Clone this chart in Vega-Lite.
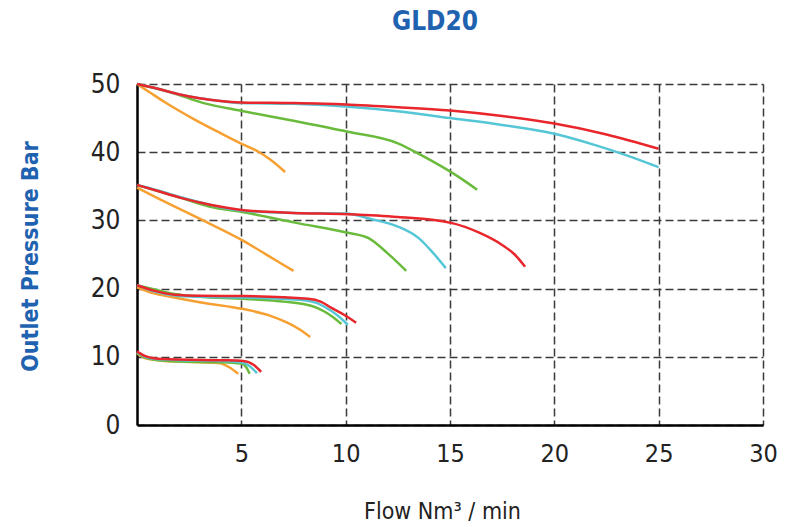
{
  "$schema": "https://vega.github.io/schema/vega-lite/v6.json",
  "autosize": "none",
  "width": 626,
  "height": 341,
  "padding": {"left": 137, "top": 84, "right": 26, "bottom": 102},
  "background": "white",
  "config": {"view": {"stroke": null}},
  "title": {
    "text": "GLD20",
    "anchor": "middle",
    "dx": -15,
    "offset": 36,
    "font": "DejaVu Sans Condensed, sans-serif",
    "fontSize": 26,
    "fontWeight": "bold",
    "color": "#1f62b0"
  },
  "data": {
    "values": [
      {"g": 50, "s": "orange", "x": 0, "y": 50}, {"g": 50, "s": "orange", "x": 0.6, "y": 48.8}, {"g": 50, "s": "orange", "x": 1.3, "y": 47.4}, {"g": 50, "s": "orange", "x": 2.7, "y": 44.9}, {"g": 50, "s": "orange", "x": 4, "y": 42.8}, {"g": 50, "s": "orange", "x": 5.1, "y": 41.1}, {"g": 50, "s": "orange", "x": 5.8, "y": 40.1}, {"g": 50, "s": "orange", "x": 6.4, "y": 38.9}, {"g": 50, "s": "orange", "x": 7.1, "y": 37.1},
      {"g": 50, "s": "green", "x": 0, "y": 50}, {"g": 50, "s": "green", "x": 1.6, "y": 48.8}, {"g": 50, "s": "green", "x": 3.2, "y": 47.2}, {"g": 50, "s": "green", "x": 5.1, "y": 46}, {"g": 50, "s": "green", "x": 7.5, "y": 44.6}, {"g": 50, "s": "green", "x": 10.1, "y": 43}, {"g": 50, "s": "green", "x": 12.5, "y": 41.3}, {"g": 50, "s": "green", "x": 13.6, "y": 39.6}, {"g": 50, "s": "green", "x": 15.5, "y": 36.2}, {"g": 50, "s": "green", "x": 16.3, "y": 34.5},
      {"g": 50, "s": "cyan", "x": 0, "y": 50}, {"g": 50, "s": "cyan", "x": 1, "y": 49.3}, {"g": 50, "s": "cyan", "x": 2, "y": 48.5}, {"g": 50, "s": "cyan", "x": 3, "y": 47.9}, {"g": 50, "s": "cyan", "x": 4, "y": 47.5}, {"g": 50, "s": "cyan", "x": 5, "y": 47.2}, {"g": 50, "s": "cyan", "x": 7.5, "y": 47.1}, {"g": 50, "s": "cyan", "x": 10, "y": 46.7}, {"g": 50, "s": "cyan", "x": 12.5, "y": 46}, {"g": 50, "s": "cyan", "x": 15, "y": 45}, {"g": 50, "s": "cyan", "x": 17.5, "y": 44}, {"g": 50, "s": "cyan", "x": 20, "y": 42.7}, {"g": 50, "s": "cyan", "x": 22, "y": 41}, {"g": 50, "s": "cyan", "x": 23.5, "y": 39.5}, {"g": 50, "s": "cyan", "x": 25, "y": 37.8},
      {"g": 50, "s": "red", "x": 0, "y": 50}, {"g": 50, "s": "red", "x": 1, "y": 49.3}, {"g": 50, "s": "red", "x": 2, "y": 48.5}, {"g": 50, "s": "red", "x": 3, "y": 47.9}, {"g": 50, "s": "red", "x": 4, "y": 47.5}, {"g": 50, "s": "red", "x": 5, "y": 47.3}, {"g": 50, "s": "red", "x": 7.5, "y": 47.2}, {"g": 50, "s": "red", "x": 10, "y": 47}, {"g": 50, "s": "red", "x": 12.5, "y": 46.6}, {"g": 50, "s": "red", "x": 15, "y": 46.1}, {"g": 50, "s": "red", "x": 17.5, "y": 45.3}, {"g": 50, "s": "red", "x": 20, "y": 44.2}, {"g": 50, "s": "red", "x": 22.5, "y": 42.6}, {"g": 50, "s": "red", "x": 25, "y": 40.5},

      {"g": 35, "s": "orange", "x": 0, "y": 34.8}, {"g": 35, "s": "orange", "x": 1.15, "y": 33}, {"g": 35, "s": "orange", "x": 2.9, "y": 30.4}, {"g": 35, "s": "orange", "x": 5.1, "y": 27}, {"g": 35, "s": "orange", "x": 6.3, "y": 24.8}, {"g": 35, "s": "orange", "x": 7.5, "y": 22.6},
      {"g": 35, "s": "green", "x": 0, "y": 35.2}, {"g": 35, "s": "green", "x": 1, "y": 34.3}, {"g": 35, "s": "green", "x": 2.1, "y": 33.3}, {"g": 35, "s": "green", "x": 3.5, "y": 32}, {"g": 35, "s": "green", "x": 5.1, "y": 31.2}, {"g": 35, "s": "green", "x": 7.7, "y": 29.6}, {"g": 35, "s": "green", "x": 10.1, "y": 28.2}, {"g": 35, "s": "green", "x": 11.1, "y": 27.4}, {"g": 35, "s": "green", "x": 12, "y": 25.2}, {"g": 35, "s": "green", "x": 12.9, "y": 22.6},
      {"g": 35, "s": "cyan", "x": 0, "y": 35.2}, {"g": 35, "s": "cyan", "x": 1, "y": 34.4}, {"g": 35, "s": "cyan", "x": 2.1, "y": 33.4}, {"g": 35, "s": "cyan", "x": 3.5, "y": 32.3}, {"g": 35, "s": "cyan", "x": 5.1, "y": 31.4}, {"g": 35, "s": "cyan", "x": 7.5, "y": 31.1}, {"g": 35, "s": "cyan", "x": 10, "y": 31}, {"g": 35, "s": "cyan", "x": 11.2, "y": 30.2}, {"g": 35, "s": "cyan", "x": 12.5, "y": 29.1}, {"g": 35, "s": "cyan", "x": 13.5, "y": 27.4}, {"g": 35, "s": "cyan", "x": 14.2, "y": 25.2}, {"g": 35, "s": "cyan", "x": 14.8, "y": 23},
      {"g": 35, "s": "red", "x": 0, "y": 35.2}, {"g": 35, "s": "red", "x": 1, "y": 34.3}, {"g": 35, "s": "red", "x": 2.1, "y": 33.3}, {"g": 35, "s": "red", "x": 3.5, "y": 32.3}, {"g": 35, "s": "red", "x": 5.1, "y": 31.5}, {"g": 35, "s": "red", "x": 7.5, "y": 31.1}, {"g": 35, "s": "red", "x": 10.1, "y": 30.9}, {"g": 35, "s": "red", "x": 12.5, "y": 30.5}, {"g": 35, "s": "red", "x": 15.1, "y": 29.6}, {"g": 35, "s": "red", "x": 16.4, "y": 28.2}, {"g": 35, "s": "red", "x": 17.5, "y": 26.4}, {"g": 35, "s": "red", "x": 18.1, "y": 25}, {"g": 35, "s": "red", "x": 18.6, "y": 23.2},

      {"g": 20, "s": "orange", "x": 0, "y": 20.2}, {"g": 20, "s": "orange", "x": 0.8, "y": 19.3}, {"g": 20, "s": "orange", "x": 1.6, "y": 18.8}, {"g": 20, "s": "orange", "x": 3, "y": 18}, {"g": 20, "s": "orange", "x": 5.1, "y": 17}, {"g": 20, "s": "orange", "x": 6.4, "y": 16}, {"g": 20, "s": "orange", "x": 7.2, "y": 15}, {"g": 20, "s": "orange", "x": 7.8, "y": 14}, {"g": 20, "s": "orange", "x": 8.3, "y": 12.9},
      {"g": 20, "s": "green", "x": 0, "y": 20.5}, {"g": 20, "s": "green", "x": 0.8, "y": 19.9}, {"g": 20, "s": "green", "x": 1.8, "y": 19.2}, {"g": 20, "s": "green", "x": 3, "y": 18.8}, {"g": 20, "s": "green", "x": 5.1, "y": 18.5}, {"g": 20, "s": "green", "x": 8.2, "y": 17.6}, {"g": 20, "s": "green", "x": 9, "y": 16.6}, {"g": 20, "s": "green", "x": 9.4, "y": 15.8}, {"g": 20, "s": "green", "x": 9.8, "y": 14.8},
      {"g": 20, "s": "cyan", "x": 0, "y": 20.5}, {"g": 20, "s": "cyan", "x": 0.8, "y": 19.6}, {"g": 20, "s": "cyan", "x": 1.8, "y": 19}, {"g": 20, "s": "cyan", "x": 3, "y": 18.8}, {"g": 20, "s": "cyan", "x": 5.1, "y": 18.7}, {"g": 20, "s": "cyan", "x": 8, "y": 18.3}, {"g": 20, "s": "cyan", "x": 8.6, "y": 17.9}, {"g": 20, "s": "cyan", "x": 9, "y": 17.3}, {"g": 20, "s": "cyan", "x": 9.6, "y": 16.1}, {"g": 20, "s": "cyan", "x": 10.1, "y": 14.7},
      {"g": 20, "s": "red", "x": 0, "y": 20.5}, {"g": 20, "s": "red", "x": 0.8, "y": 19.7}, {"g": 20, "s": "red", "x": 1.8, "y": 19.1}, {"g": 20, "s": "red", "x": 3, "y": 18.95}, {"g": 20, "s": "red", "x": 5.1, "y": 18.9}, {"g": 20, "s": "red", "x": 8.2, "y": 18.5}, {"g": 20, "s": "red", "x": 8.8, "y": 18.1}, {"g": 20, "s": "red", "x": 9.3, "y": 17.2}, {"g": 20, "s": "red", "x": 9.9, "y": 16.2}, {"g": 20, "s": "red", "x": 10.5, "y": 15},

      {"g": 10, "s": "orange", "x": 0, "y": 10.5}, {"g": 10, "s": "orange", "x": 0.5, "y": 9.7}, {"g": 10, "s": "orange", "x": 1.3, "y": 9.4}, {"g": 10, "s": "orange", "x": 3.9, "y": 9.1}, {"g": 10, "s": "orange", "x": 4.4, "y": 8.5}, {"g": 10, "s": "orange", "x": 4.85, "y": 7.5},
      {"g": 10, "s": "green", "x": 0, "y": 10.6}, {"g": 10, "s": "green", "x": 0.4, "y": 9.9}, {"g": 10, "s": "green", "x": 0.8, "y": 9.6}, {"g": 10, "s": "green", "x": 2, "y": 9.3}, {"g": 10, "s": "green", "x": 4, "y": 9.2}, {"g": 10, "s": "green", "x": 5, "y": 9}, {"g": 10, "s": "green", "x": 5.25, "y": 8.4}, {"g": 10, "s": "green", "x": 5.4, "y": 7.5},
      {"g": 10, "s": "cyan", "x": 0, "y": 10.7}, {"g": 10, "s": "cyan", "x": 0.4, "y": 10}, {"g": 10, "s": "cyan", "x": 0.8, "y": 9.7}, {"g": 10, "s": "cyan", "x": 2, "y": 9.5}, {"g": 10, "s": "cyan", "x": 4, "y": 9.4}, {"g": 10, "s": "cyan", "x": 5, "y": 9.2}, {"g": 10, "s": "cyan", "x": 5.4, "y": 8.6}, {"g": 10, "s": "cyan", "x": 5.75, "y": 7.6},
      {"g": 10, "s": "red", "x": 0, "y": 10.8}, {"g": 10, "s": "red", "x": 0.4, "y": 10.1}, {"g": 10, "s": "red", "x": 0.8, "y": 9.8}, {"g": 10, "s": "red", "x": 2, "y": 9.6}, {"g": 10, "s": "red", "x": 4, "y": 9.5}, {"g": 10, "s": "red", "x": 5.1, "y": 9.4}, {"g": 10, "s": "red", "x": 5.6, "y": 8.8}, {"g": 10, "s": "red", "x": 5.95, "y": 7.8}
    ]
  },
  "mark": {"type": "line", "interpolate": "monotone", "strokeWidth": 2.5},
  "encoding": {
    "x": {
      "field": "x", "type": "quantitative",
      "scale": {"domain": [0, 30], "nice": false, "zero": true},
      "axis": {
        "title": "Flow Nm³ / min",
        "values": [5, 10, 15, 20, 25, 30],
        "ticks": false,
        "domainColor": "black", "domainWidth": 2.5,
        "grid": true, "gridColor": "#3a3a3a", "gridDash": [8, 4], "gridWidth": 1.5,
        "labelFont": "DejaVu Sans Condensed, sans-serif",
        "labelFontSize": 25, "labelColor": "#222", "labelPadding": 16,
        "labelFlush": false,
        "titleFont": "DejaVu Sans Condensed, sans-serif",
        "titleFontSize": 23, "titleFontWeight": "normal", "titleColor": "#222",
        "titleX": 305, "titleY": 86, "titleBaseline": "middle", "titleAlign": "center"
      }
    },
    "y": {
      "field": "y", "type": "quantitative",
      "scale": {"domain": [0, 50], "nice": false},
      "axis": {
        "title": "Outlet Pressure Bar",
        "values": [0, 10, 20, 30, 40, 50],
        "ticks": false,
        "domainColor": "black", "domainWidth": 2.5,
        "grid": true, "gridColor": "#3a3a3a", "gridDash": [8, 4], "gridWidth": 1.5,
        "labelFont": "DejaVu Sans Condensed, sans-serif",
        "labelFontSize": 26, "labelColor": "#222", "labelPadding": 17,
        "labelFlush": false, "labelBaseline": "middle",
        "titleFont": "DejaVu Sans Condensed, sans-serif",
        "titleFontSize": 23, "titleFontWeight": "bold", "titleColor": "#1f62b0",
        "titleX": -107, "titleY": 172, "titleBaseline": "middle", "titleAlign": "center", "titleAngle": -90
      }
    },
    "color": {
      "field": "s", "type": "nominal", "legend": null,
      "scale": {"domain": ["orange", "green", "cyan", "red"], "range": ["#f7a032", "#6abb3c", "#55c6d6", "#e8262b"]}
    },
    "detail": {"field": "g", "type": "nominal"}
  }
}
